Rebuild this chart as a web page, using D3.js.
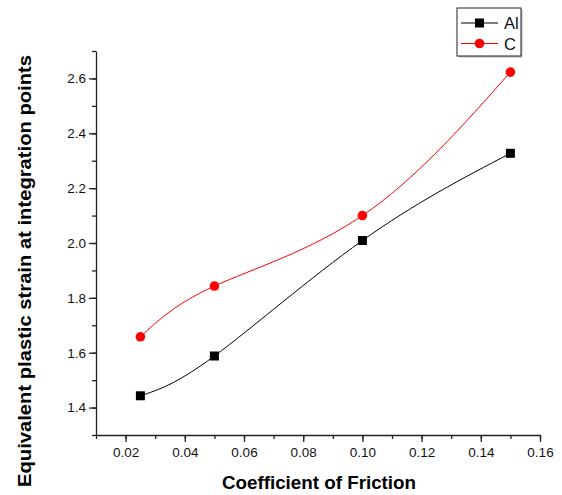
<!DOCTYPE html>
<html>
<head>
<meta charset="utf-8">
<script src="https://cdn.jsdelivr.net/npm/d3@7"></script>
<style>
  body { margin: 0; background: #fff; }
  text { font-family: "Liberation Sans", Arial, sans-serif; }
</style>
</head>
<body>
<script>
// friction coefficients and strain values
var friction = [0.025, 0.05, 0.10, 0.15];
var alValues = [1.443, 1.588, 2.009, 2.327];
var cValues = [1.658, 1.843, 2.100, 2.623];
var xTicks = [0.02, 0.04, 0.06, 0.08, 0.10, 0.12, 0.14, 0.16];
var yTicks = [1.4, 1.6, 1.8, 2.0, 2.2, 2.4, 2.6];

var w = 562, h = 495;
var margin = {left: 96, right: 22, top: 51, bottom: 60};

var x = d3.scaleLinear().domain([0.01, 0.16]).range([margin.left, w - margin.right]);
var y = d3.scaleLinear().domain([1.3, 2.7]).range([h - margin.bottom, margin.top]);

var svg = d3.select("body").append("svg")
    .attr("width", w)
    .attr("height", h);

// minor ticks first, then major axis on top
var xMinor = d3.range(0.01, 0.161, 0.01);
var yMinor = d3.range(1.3, 2.71, 0.1);

svg.append("g")
    .attr("transform", "translate(0," + y.range()[0] + ")")
    .call(d3.axisBottom(x).tickValues(xMinor).tickSize(4).tickFormat(""))
    .call(function(g) { g.select(".domain").remove(); });

svg.append("g")
    .attr("transform", "translate(" + x.range()[0] + ",0)")
    .call(d3.axisLeft(y).tickValues(yMinor).tickSize(4).tickFormat(""))
    .call(function(g) { g.select(".domain").remove(); });

var xAxis = svg.append("g")
    .attr("class", "axis")
    .attr("transform", "translate(0," + y.range()[0] + ")")
    .call(d3.axisBottom(x).tickValues(xTicks).tickSize(7).tickSizeOuter(0).tickPadding(5).tickFormat(d3.format(".2f")));

var yAxis = svg.append("g")
    .attr("class", "axis")
    .attr("transform", "translate(" + x.range()[0] + ",0)")
    .call(d3.axisLeft(y).tickValues(yTicks).tickSize(7).tickSizeOuter(0).tickPadding(3).tickFormat(d3.format(".1f")));

svg.selectAll(".axis text")
    .attr("font-size", 13.5)
    .attr("fill", "#111")
    .style("font-family", "Liberation Sans, Arial, sans-serif");
svg.selectAll("g line, g path.domain")
    .attr("stroke", "#222")
    .attr("stroke-width", 1.3);

// axis titles
svg.append("text")
    .attr("x", 319)
    .attr("y", 489)
    .attr("text-anchor", "middle")
    .attr("font-size", 18.8)
    .attr("font-weight", "bold")
    .text("Coefficient of Friction");

svg.append("text")
    .attr("transform", "translate(31,271) rotate(-90)")
    .attr("text-anchor", "middle")
    .attr("font-size", 17.5)
    .attr("font-weight", "bold")
    .attr("textLength", 432)
    .attr("lengthAdjust", "spacingAndGlyphs")
    .text("Equivalent plastic strain at integration points");

var line = d3.line()
    .curve(d3.curveNatural)
    .x(function(d) { return x(d[0]); })
    .y(function(d) { return y(d[1]); });

var alPts = friction.map(function(f, i) { return [f, alValues[i]]; });
var cPts = friction.map(function(f, i) { return [f, cValues[i]]; });

svg.append("path")
    .datum(alPts)
    .attr("d", line)
    .attr("fill", "none")
    .attr("stroke", "#000")
    .attr("stroke-width", 1);

svg.append("path")
    .datum(cPts)
    .attr("d", line)
    .attr("fill", "none")
    .attr("stroke", "#ff0000")
    .attr("stroke-width", 1);

svg.selectAll(".al")
    .data(alPts)
    .enter()
    .append("rect")
    .attr("class", "al")
    .attr("x", function(d) { return x(d[0]) - 4.5; })
    .attr("y", function(d) { return y(d[1]) - 4.5; })
    .attr("width", 9)
    .attr("height", 9)
    .attr("fill", "#000");

svg.selectAll(".c")
    .data(cPts)
    .enter()
    .append("circle")
    .attr("class", "c")
    .attr("cx", function(d) { return x(d[0]); })
    .attr("cy", function(d) { return y(d[1]); })
    .attr("r", 4.8)
    .attr("fill", "#ff0000");

// legend
var leg = svg.append("g").attr("transform", "translate(457,8)");
leg.append("rect")
    .attr("x", 1.5).attr("y", 1.5)
    .attr("width", 64).attr("height", 48)
    .attr("fill", "#bbb");
leg.append("rect")
    .attr("x", 0).attr("y", 0)
    .attr("width", 64).attr("height", 48)
    .attr("fill", "#fff")
    .attr("stroke", "#222")
    .attr("stroke-width", 1);

var items = [
  {name: "Al", color: "#000", shape: "square"},
  {name: "C", color: "#ff0000", shape: "circle"}
];
items.forEach(function(it, i) {
  var cy = 15 + i * 20.5;
  leg.append("line")
      .attr("x1", 4).attr("x2", 41)
      .attr("y1", cy).attr("y2", cy)
      .attr("stroke", it.color).attr("stroke-width", 1);
  if (it.shape === "square") {
    leg.append("rect")
        .attr("x", 22.5 - 4.5).attr("y", cy - 4.5)
        .attr("width", 9).attr("height", 9)
        .attr("fill", it.color);
  } else {
    leg.append("circle")
        .attr("cx", 22.5).attr("cy", cy)
        .attr("r", 4.8)
        .attr("fill", it.color);
  }
  leg.append("text")
      .attr("x", 47).attr("y", cy + 6)
      .attr("font-size", 16.5)
      .attr("fill", "#111")
      .text(it.name);
});
</script>
</body>
</html>
